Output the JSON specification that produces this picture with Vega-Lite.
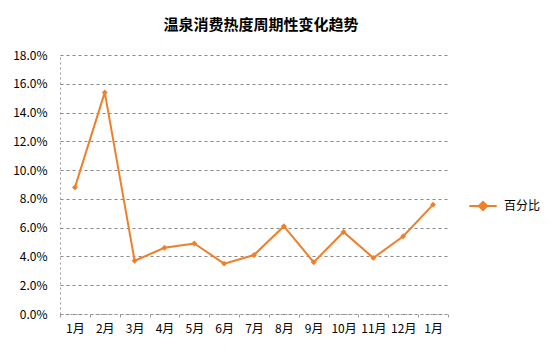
{
  "$schema": "https://vega.github.io/schema/vega-lite/v6.json",
  "autosize": "none",
  "width": 388,
  "height": 259,
  "padding": {"left": 60, "top": 55, "right": 104, "bottom": 42},
  "background": "white",
  "title": {"text": "温泉消费热度周期性变化趋势", "font": "Noto Sans CJK SC", "fontSize": 15, "fontWeight": "bold", "color": "#000", "anchor": "middle", "offset": 16, "dx": 7},
  "config": {"view": {"stroke": null}, "font": "Noto Sans CJK SC"},
  "data": {"values": [
    {"m": "1月", "v": 0.088, "s": "百分比"},
    {"m": "2月", "v": 0.154, "s": "百分比"},
    {"m": "3月", "v": 0.037, "s": "百分比"},
    {"m": "4月", "v": 0.046, "s": "百分比"},
    {"m": "5月", "v": 0.049, "s": "百分比"},
    {"m": "6月", "v": 0.035, "s": "百分比"},
    {"m": "7月", "v": 0.041, "s": "百分比"},
    {"m": "8月", "v": 0.061, "s": "百分比"},
    {"m": "9月", "v": 0.036, "s": "百分比"},
    {"m": "10月", "v": 0.057, "s": "百分比"},
    {"m": "11月", "v": 0.039, "s": "百分比"},
    {"m": "12月", "v": 0.054, "s": "百分比"},
    {"m": "1月 ", "v": 0.076, "s": "百分比"}
  ]},
  "encoding": {
    "x": {"field": "m", "type": "ordinal", "sort": null,
      "scale": {"paddingInner": 0, "paddingOuter": 0},
      "axis": {"title": null, "labelAngle": 0, "labelFontSize": 12, "labelColor": "#000", "labelPadding": 6,
        "tickBand": "extent", "tickColor": "#999", "tickSize": 3, "domainColor": "#999", "domainDash": [2, 3], "grid": false}},
    "y": {"field": "v", "type": "quantitative",
      "scale": {"domain": [0, 0.18], "nice": false},
      "axis": {"title": null, "format": ".1%", "values": [0, 0.02, 0.04, 0.06, 0.08, 0.1, 0.12, 0.14, 0.16, 0.18],
        "labelFontSize": 12, "labelColor": "#000", "labelPadding": 13, "ticks": false,
        "domainColor": "#999", "domainDash": [2, 3],
        "grid": true, "gridColor": "#888", "gridDash": [3, 3]}},
    "color": {"field": "s", "type": "nominal", "scale": {"range": ["#F07F2A"]},
      "legend": {"title": null, "orient": "none", "legendX": 408, "legendY": 136, "labelFontSize": 12, "labelColor": "#000",
        "symbolType": "M-1,0H1M-0.3,0L0,-0.3L0.3,0L0,0.3Z", "symbolSize": 750, "symbolStrokeWidth": 2, "symbolFillColor": "#F07F2A", "symbolStrokeColor": "#F07F2A", "labelOffset": 6}}
  },
  "layer": [
    {"mark": {"type": "line", "strokeWidth": 2}},
    {"mark": {"type": "point", "shape": "diamond", "filled": true, "size": 35, "opacity": 1}}
  ]
}
